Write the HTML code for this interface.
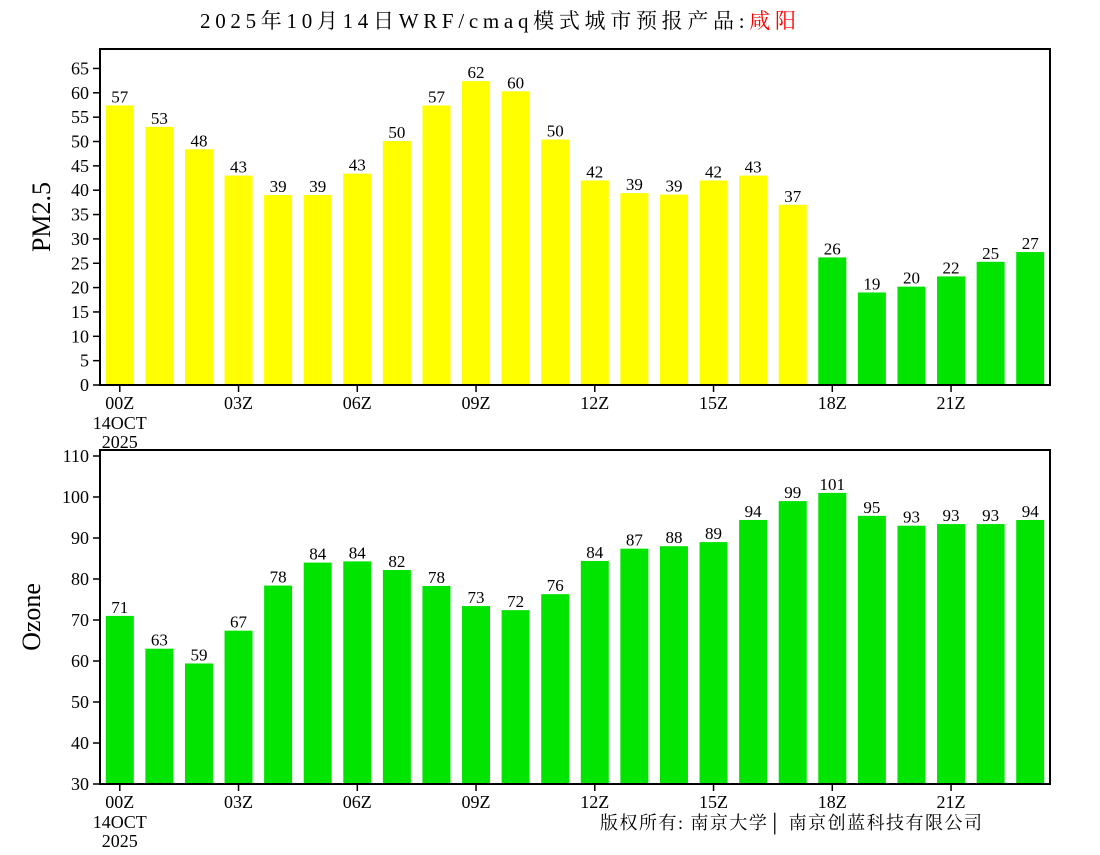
<!DOCTYPE html>
<html><head><meta charset="utf-8"><style>
body{margin:0;background:#fff;}
svg text{font-family:"Liberation Serif","Noto Serif CJK SC",serif;}
</style></head><body>
<svg id="c" width="1100" height="850" viewBox="0 0 1100 850" xmlns="http://www.w3.org/2000/svg">
<text x="200" y="28" font-size="21" textLength="596" lengthAdjust="spacing">2025年10月14日WRF/cmaq模式城市预报产品:<tspan fill="#ff0000">咸阳</tspan></text>
<text x="600" y="829" font-size="18" textLength="382" lengthAdjust="spacing">版权所有: 南京大学│ 南京创蓝科技有限公司</text>
</svg>
<script>
const hours=["00Z","01Z","02Z","03Z","04Z","05Z","06Z","07Z","08Z","09Z","10Z","11Z","12Z","13Z","14Z","15Z","16Z","17Z","18Z","19Z","20Z","21Z","22Z","23Z"];
const pm25=[57.4,53,48.4,43,39,39,43.4,50.1,57.4,62.4,60.3,50.4,42,39.4,39.1,42,43,37,26.2,19,20.2,22.3,25.3,27.3];
const ozone=[71,63,59.4,67.4,78.4,84,84.3,82.2,78.3,73.4,72.4,76.3,84.4,87.4,88,89,94.4,99,101,95.4,93,93.4,93.4,94.4];
const pmTicks=[0,5,10,15,20,25,30,35,40,45,50,55,60,65];
const ozTicks=[30,40,50,60,70,80,90,100,110];
const NS="http://www.w3.org/2000/svg";
const svg=document.getElementById('c');
function mk(t,a,txt){const e=document.createElementNS(NS,t);for(const k in a)e.setAttribute(k,a[k]);if(txt!==undefined)e.textContent=txt;svg.appendChild(e);return e;}
function panel(o){
  const L=100,R=1050,slot=(R-L)/hours.length;
  const x=i=>L+slot*(i+0.5);
  const y=v=>o.y0-(v-o.vmin)*o.k;
  o.vals.forEach((v,i)=>{
    const top=Math.max(y(v),o.top);
    const r=mk('rect',{x:x(i)-14,y:top,width:28,height:o.y0-top,fill:o.color(v)});
    
    
    const t=mk('text',{x:x(i),y:top-3,'font-size':17,'text-anchor':'middle'},Math.round(v));
    
    
  });
  const f=mk('rect',{x:L,y:o.top,width:R-L,height:o.y0-o.top,fill:'none',stroke:'#000','stroke-width':2});
  
  
  o.ticks.forEach(v=>{
    mk('line',{x1:L-7,x2:L,y1:y(v),y2:y(v),stroke:'#000','stroke-width':1.5});
    const t=mk('text',{x:L-11,y:y(v)+6,'font-size':18,'text-anchor':'end'},v);
    
    
  });
  hours.forEach((h,i)=>{
    if(i%3)return;
    mk('line',{x1:x(i),x2:x(i),y1:o.y0,y2:o.y0+7,stroke:'#000','stroke-width':1.5});
    const t=mk('text',{x:x(i),y:o.y0+24,'font-size':18,'text-anchor':'middle'},h);
    
    
  });
  const d1=mk('text',{x:x(0),y:o.y0+44,'font-size':18,'text-anchor':'middle'},'14OCT');
  
  
  const d2=mk('text',{x:x(0),y:o.y0+63,'font-size':18,'text-anchor':'middle'},'2025');
  
  
  const yt=mk('text',{x:0,y:0,'font-size':26,'text-anchor':'middle',transform:`translate(${o.titleX},${(o.top+o.y0)/2}) rotate(-90)`},o.title);
  
  
}
panel({name:'pm25',vals:pm25,ticks:pmTicks,y0:385,top:49,vmin:0,k:4.87,title:'PM2.5',titleX:50,color:v=>v>=35?'#ffff00':'#00e400'});
panel({name:'ozone',vals:ozone,ticks:ozTicks,y0:784,top:450,vmin:30,k:4.1,title:'Ozone',titleX:40,color:v=>'#00e400'});
</script>
</body></html>
